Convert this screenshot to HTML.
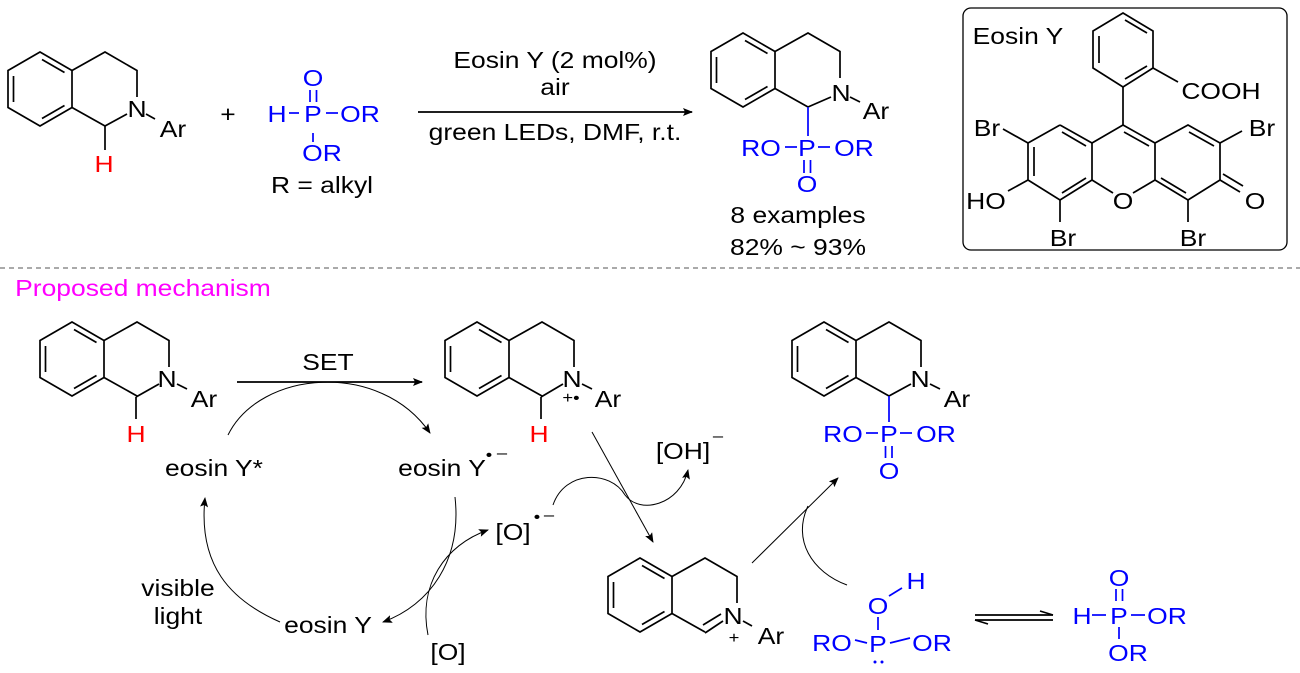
<!DOCTYPE html>
<html><head><meta charset="utf-8"><style>
html,body{margin:0;padding:0;background:#fff;}
svg{display:block}
text{font-family:"Liberation Sans",Arial,sans-serif;font-size:23px;text-anchor:middle;transform:scaleX(1.15);transform-box:fill-box;transform-origin:center;}
.b{fill:#0000ff}.r{fill:#ff0000}.s{font-size:16px}
.k{stroke:#000;stroke-width:1.7;fill:none}
.bl{stroke:#0000ff;stroke-width:1.7;fill:none}
.c{stroke:#000;stroke-width:1;fill:none}
</style></head><body>
<svg width="1300" height="673" viewBox="0 0 1300 673" xmlns="http://www.w3.org/2000/svg">
<defs>
<marker id="ah" viewBox="0 0 10 8" refX="9" refY="4" markerWidth="10" markerHeight="8" markerUnits="userSpaceOnUse" orient="auto"><path d="M0,0 L10,4 L0,8 L2,4 Z" fill="#000"/></marker>
<g id="thq">
<polygon class="k" points="0,0 32,18.5 32,55.5 0,74 -32,55.5 -32,18.5"/>
<line class="k" x1="2" y1="7.5" x2="24.5" y2="20.5"/>
<line class="k" x1="-26.5" y1="24" x2="-26.5" y2="50"/>
<line class="k" x1="24.5" y1="53.5" x2="2" y2="66.5"/>
<polyline class="k" points="32,18.5 65,0 97,18.5 97,45"/>
<line class="k" x1="32" y1="55.5" x2="65" y2="74"/>
</g>
</defs>

<!-- Top reaction -->
<use href="#thq" x="40" y="52"/>
<line class="k" x1="127" y1="114" x2="105" y2="126"/>
<line class="k" x1="105" y1="126" x2="105" y2="150"/>
<line class="k" x1="146" y1="114" x2="155" y2="119"/>
<text x="137" y="117">N</text>
<text x="173" y="137">Ar</text>
<text x="104" y="172" class="r">H</text>
<text x="228" y="122">+</text>
<text x="313" y="86" class="b">O</text>
<line class="bl" x1="310" y1="90" x2="310" y2="102"/><line class="bl" x1="316.5" y1="90" x2="316.5" y2="102"/>
<text x="277" y="122" class="b">H</text>
<line class="bl" x1="289" y1="113" x2="299" y2="113"/>
<text x="313" y="122" class="b">P</text>
<line class="bl" x1="326" y1="113" x2="338" y2="113"/>
<text x="360" y="122" class="b">OR</text>
<line class="bl" x1="313" y1="133" x2="313" y2="142"/>
<text x="322" y="161" class="b">OR</text>
<text x="322" y="193">R = alkyl</text>
<line class="k" x1="418" y1="112" x2="692" y2="112" marker-end="url(#ah)"/>
<text x="555" y="68">Eosin Y (2 mol%)</text>
<text x="555" y="95">air</text>
<text x="555" y="140">green LEDs, DMF, r.t.</text>

<!-- product -->
<use href="#thq" x="743" y="33"/>
<line class="k" x1="831" y1="97" x2="808" y2="107"/>
<line class="k" x1="850" y1="97" x2="860" y2="102"/>
<text x="841" y="101">N</text>
<text x="876" y="119">Ar</text>
<line class="bl" x1="808" y1="107" x2="808" y2="136"/>
<text x="761" y="156" class="b">RO</text>
<line class="bl" x1="785" y1="147" x2="797" y2="147"/>
<text x="807" y="156" class="b">P</text>
<line class="bl" x1="818" y1="147" x2="830" y2="147"/>
<text x="854" y="156" class="b">OR</text>
<line class="bl" x1="804" y1="160" x2="804" y2="173"/><line class="bl" x1="810.5" y1="160" x2="810.5" y2="173"/>
<text x="807" y="192" class="b">O</text>
<text x="798" y="223">8 examples</text>
<text x="798" y="255">82% ~ 93%</text>

<!-- Eosin Y box -->
<rect x="963" y="8" width="324" height="242" rx="8" ry="8" fill="none" stroke="#000" stroke-width="1.3"/>
<text x="1018" y="44">Eosin Y</text>
<polygon class="k" points="1123,13 1153,31 1153,68 1123,87 1093,68 1093,31"/>
<line class="k" x1="1125" y1="20" x2="1147" y2="33"/>
<line class="k" x1="1099" y1="36" x2="1099" y2="63"/>
<line class="k" x1="1147" y1="66" x2="1125" y2="79"/>
<line class="k" x1="1153" y1="68" x2="1178" y2="82"/>
<text x="1221" y="99">COOH</text>
<line class="k" x1="1123" y1="87" x2="1123" y2="125"/>
<polyline class="k" points="1060,125 1092,143 1123,125 1155,143 1188,125 1220,143 1220,180 1188,200 1155,180 1155,143"/>
<polyline class="k" points="1060,125 1028,143 1028,180 1060,200 1092,180 1092,143"/>
<line class="k" x1="1092" y1="180" x2="1113" y2="193"/>
<line class="k" x1="1133" y1="193" x2="1155" y2="180"/>
<line class="k" x1="1062" y1="132" x2="1086" y2="146"/>
<line class="k" x1="1034" y1="147" x2="1034" y2="176"/>
<line class="k" x1="1062" y1="193" x2="1086" y2="178"/>
<line class="k" x1="1124" y1="132" x2="1149" y2="146"/>
<line class="k" x1="1189" y1="132" x2="1214" y2="146"/>
<line class="k" x1="1161" y1="178" x2="1186" y2="193"/>
<line class="k" x1="1220" y1="180" x2="1240" y2="192"/>
<line class="k" x1="1223" y1="174" x2="1243" y2="186"/>
<line class="k" x1="1028" y1="143" x2="1003" y2="129"/>
<line class="k" x1="1220" y1="143" x2="1242" y2="131"/>
<line class="k" x1="1028" y1="180" x2="1008" y2="191"/>
<line class="k" x1="1060" y1="200" x2="1060" y2="222"/>
<line class="k" x1="1188" y1="200" x2="1188" y2="222"/>
<text x="987" y="136">Br</text>
<text x="1262" y="136">Br</text>
<text x="986" y="209">HO</text>
<text x="1123" y="209">O</text>
<text x="1255" y="209">O</text>
<text x="1063" y="246">Br</text>
<text x="1193" y="246">Br</text>

<line x1="0" y1="268" x2="1300" y2="268" stroke="#555" stroke-width="1" stroke-dasharray="5,4"/>
<text x="143" y="296" style="fill:#ff00ff">Proposed mechanism</text>

<!-- mechanism mol1 -->
<use href="#thq" x="72" y="322"/>
<line class="k" x1="159" y1="384" x2="136" y2="397"/>
<line class="k" x1="136" y1="397" x2="136" y2="419"/>
<line class="k" x1="177" y1="384" x2="187" y2="389"/>
<text x="167" y="387">N</text>
<text x="204" y="407">Ar</text>
<text x="136" y="442" class="r">H</text>
<line class="k" x1="237" y1="382" x2="422" y2="382" marker-end="url(#ah)"/>
<text x="328" y="370">SET</text>
<path class="c" d="M228,435 C260,370 380,360 430,433" marker-end="url(#ah)"/>
<text x="214" y="476">eosin Y*</text>
<text x="442" y="476">eosin Y</text>
<text x="489" y="460" class="s">•</text>
<text x="502" y="458" class="s">–</text>

<!-- mol2 -->
<use href="#thq" x="477" y="322"/>
<line class="k" x1="563" y1="384" x2="541" y2="397"/>
<line class="k" x1="541" y1="397" x2="541" y2="419"/>
<line class="k" x1="582" y1="384" x2="592" y2="389"/>
<text x="572" y="387">N</text>
<text x="571" y="403" class="s">+•</text>
<text x="608" y="407">Ar</text>
<text x="539" y="442" class="r">H</text>
<line class="c" x1="592" y1="432" x2="653" y2="542" marker-end="url(#ah)"/>
<text x="683" y="459">[OH]</text>
<text x="718" y="441" class="s">–</text>
<path class="c" d="M553,505 C565,470 610,470 625,495 C640,515 680,505 688,470" marker-end="url(#ah)"/>
<text x="513" y="540">[O]</text>
<text x="537" y="522" class="s">•</text>
<text x="549" y="520" class="s">–</text>

<!-- cycle -->
<path class="c" d="M455,497 C462,560 430,605 383,622" marker-end="url(#ah)"/>
<path class="c" d="M428,635 C418,585 445,545 488,530" marker-end="url(#ah)"/>
<path class="c" d="M280,622 C230,600 198,565 205,498" marker-end="url(#ah)"/>
<text x="328" y="633">eosin Y</text>
<text x="448" y="660">[O]</text>
<text x="178" y="596">visible</text>
<text x="178" y="624">light</text>

<!-- iminium -->
<use href="#thq" x="640" y="558"/>
<line class="k" x1="723" y1="621" x2="705" y2="633"/>
<line class="k" x1="721" y1="614" x2="703" y2="625"/>
<line class="k" x1="743" y1="621" x2="752" y2="626"/>
<text x="733" y="624">N</text>
<text x="734" y="643" class="s">+</text>
<text x="771" y="644">Ar</text>
<line class="c" x1="752" y1="563" x2="838" y2="478" marker-end="url(#ah)"/>
<path class="c" d="M847,585 C812,572 792,540 808,506"/>

<!-- mech product -->
<use href="#thq" x="824" y="322"/>
<line class="k" x1="911" y1="384" x2="889" y2="396"/>
<line class="k" x1="930" y1="384" x2="940" y2="389"/>
<text x="920" y="387">N</text>
<text x="957" y="407">Ar</text>
<line class="bl" x1="889" y1="396" x2="889" y2="422"/>
<text x="843" y="442" class="b">RO</text>
<line class="bl" x1="866" y1="433" x2="878" y2="433"/>
<text x="889" y="442" class="b">P</text>
<line class="bl" x1="900" y1="433" x2="912" y2="433"/>
<text x="936" y="442" class="b">OR</text>
<line class="bl" x1="885.5" y1="446" x2="885.5" y2="458"/><line class="bl" x1="892" y1="446" x2="892" y2="458"/>
<text x="889" y="479" class="b">O</text>

<!-- phosphite -->
<text x="916" y="589" class="b">H</text>
<line class="bl" x1="889" y1="596" x2="902" y2="588"/>
<text x="878" y="614" class="b">O</text>
<line class="bl" x1="878" y1="617" x2="878" y2="630"/>
<text x="878" y="652" class="b">P</text>
<text x="832" y="651" class="b">RO</text>
<line class="bl" x1="855" y1="640" x2="867" y2="643"/>
<line class="bl" x1="890" y1="643" x2="910" y2="638"/>
<text x="932" y="651" class="b">OR</text>
<circle cx="875" cy="662" r="1.5" fill="#0000ff"/><circle cx="882" cy="662" r="1.5" fill="#0000ff"/>

<!-- equilibrium -->
<line class="k" x1="975" y1="615" x2="1053" y2="615"/>
<line class="k" x1="1053" y1="615" x2="1040" y2="611"/>
<line class="k" x1="975" y1="620" x2="1053" y2="620"/>
<line class="k" x1="975" y1="620" x2="988" y2="624"/>

<text x="1119" y="586" class="b">O</text>
<line class="bl" x1="1116" y1="589" x2="1116" y2="601"/><line class="bl" x1="1122.5" y1="589" x2="1122.5" y2="601"/>
<text x="1082" y="624" class="b">H</text>
<line class="bl" x1="1092" y1="615" x2="1106" y2="615"/>
<text x="1119" y="624" class="b">P</text>
<line class="bl" x1="1131" y1="615" x2="1145" y2="615"/>
<text x="1167" y="624" class="b">OR</text>
<line class="bl" x1="1119" y1="627" x2="1119" y2="639"/>
<text x="1128" y="661" class="b">OR</text>
</svg>
</body></html>
